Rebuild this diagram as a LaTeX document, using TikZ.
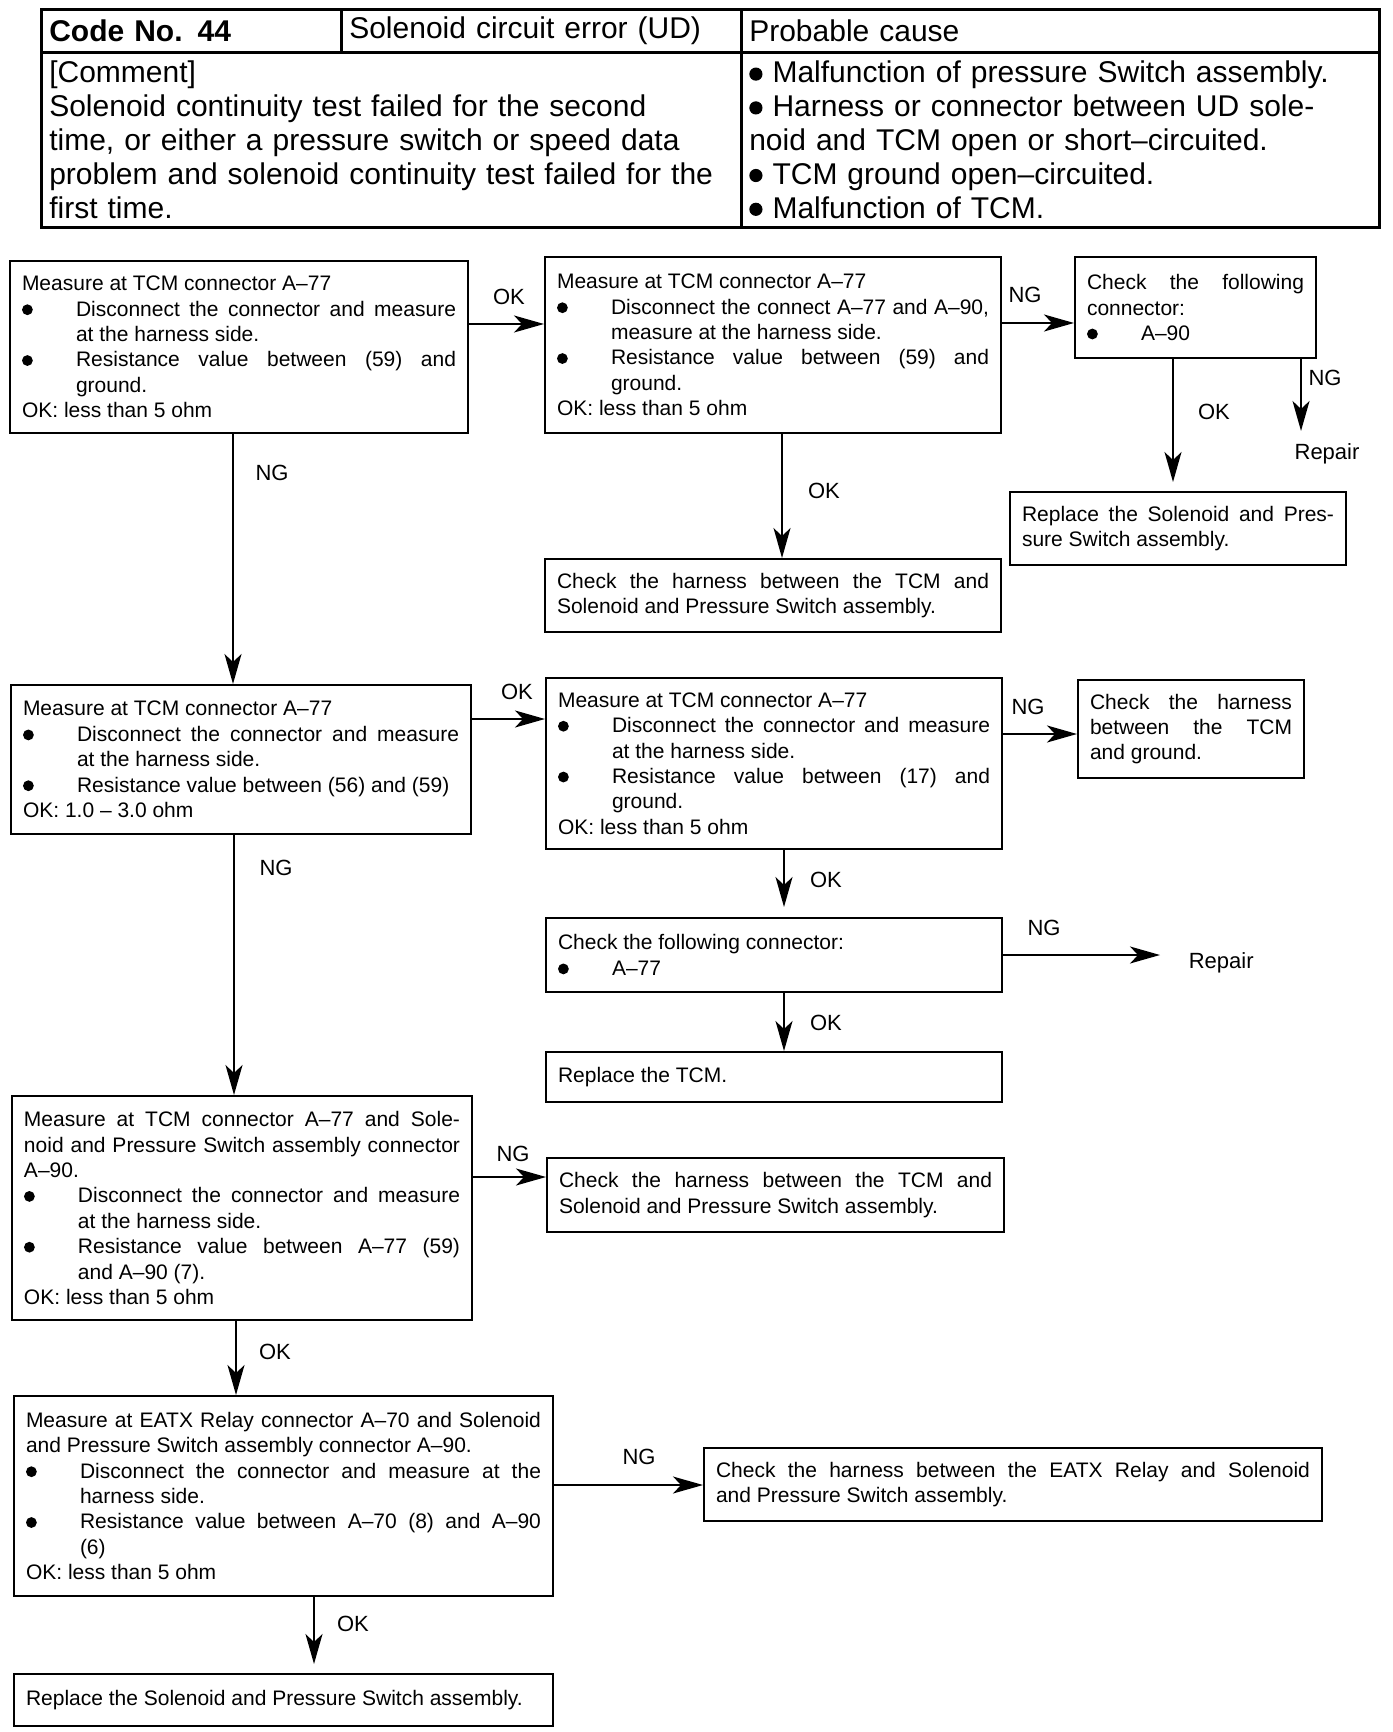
\documentclass[tikz,border=0pt]{standalone}
\usepackage{fontspec}
\setmainfont{Liberation Sans}
\usetikzlibrary{arrows.meta, positioning, calc}
\newcommand{\bigdot}[2]{\tikz[x=1pt, y=1pt, baseline=-#2]\fill (0,0) circle[radius=#1];}
\newcommand{\bitem}[1]{\par\noindent\hangindent=27pt\hangafter=1\makebox[27pt][l]{\bigdot{2.7}{3.2pt}}#1\par}
\newcommand{\hitem}{\bigdot{3.3}{4.4pt}\ }
\tikzset{
  every picture/.style={line width=0.8pt},
  box/.style={draw, line width=1pt, anchor=north west, align=justify, inner xsep=6pt, inner ysep=3pt,
    font=\fontsize{10.5}{12.7}\selectfont,
    execute at begin node={\parindent=0pt\hyphenpenalty=10000\tolerance=9999}},
  cell/.style={draw, line width=1.3pt, anchor=north west, align=left, inner xsep=4pt, inner ysep=1pt,
    font=\fontsize{15}{16.9}\selectfont},
  arrow/.style={-{Stealth[length=15pt, width=8.5pt, inset=4pt]}, line width=0.8pt},
  note/.style={font=\fontsize{11}{13}\selectfont, inner sep=0pt},
}
\begin{document}
\begin{tikzpicture}[x=0.5pt, y=-0.5pt]
  \useasboundingbox (0,0) rectangle (1392,1732);
  % header table
  \node[cell, minimum width=150pt, minimum height=21.5pt, text width=142pt] (hcode) at (40,8) {\textbf{Code No. 44}};
  \node[cell, minimum width=200pt, minimum height=21.5pt, text width=192pt] (herr) at (340,8) {Solenoid circuit error (UD)};
  \node[cell, minimum width=319pt, minimum height=21.5pt, text width=311pt] (hcause) at (740,8) {Probable cause};
  \node[cell, minimum width=350pt, minimum height=87.5pt, text width=342pt] (hcomm) at (40,51)
    {[Comment]\\Solenoid continuity test failed for the second\\time, or either a pressure switch or speed data\\problem and solenoid continuity test failed for the\\first time.};
  \node[cell, minimum width=319pt, minimum height=87.5pt, text width=311pt] (hlist) at (740,51)
    {\hitem Malfunction of pressure Switch assembly.\\\hitem Harness or connector between UD sole-\\noid and TCM open or short–circuited.\\\hitem TCM ground open–circuited.\\\hitem Malfunction of TCM.};

  % first column of checks
  \node[box, minimum width=229pt, minimum height=86pt, text width=217pt] (mA) at (9,260)
    {Measure at TCM connector A–77
     \bitem{Disconnect the connector and measure\linebreak at the harness side.}
     \bitem{Resistance value between (59) and\linebreak ground.}
     OK: less than 5 ohm};
  \node[box, minimum width=230pt, minimum height=74.5pt, text width=218pt] (mF) at (10,684)
    {Measure at TCM connector A–77
     \bitem{Disconnect the connector and measure\linebreak at the harness side.}
     \bitem{Resistance value between (56) and (59)}
     OK: 1.0 – 3.0 ohm};
  \node[box, minimum width=230pt, minimum height=112pt, text width=218pt] (mK) at (11,1095)
    {Measure at TCM connector A–77 and Sole-\linebreak noid and Pressure Switch assembly connector\linebreak A–90.
     \bitem{Disconnect the connector and measure\linebreak at the harness side.}
     \bitem{Resistance value between A–77 (59)\linebreak and A–90 (7).}
     OK: less than 5 ohm};
  \node[box, minimum width=269.5pt, minimum height=100pt, text width=257.5pt] (mM) at (13,1395)
    {Measure at EATX Relay connector A–70 and Solenoid\linebreak and Pressure Switch assembly connector A–90.
     \bitem{Disconnect the connector and measure at the\linebreak harness side.}
     \bitem{Resistance value between A–70 (8) and A–90\linebreak (6)}
     OK: less than 5 ohm};
  \node[box, minimum width=269.5pt, minimum height=26pt, text width=257.5pt] (rO) at (13,1673)
    {Replace the Solenoid and Pressure Switch assembly.};

  % second column
  \node[box, minimum width=228pt, minimum height=88pt, text width=216pt] (mB) at (544,256)
    {Measure at TCM connector A–77
     \bitem{Disconnect the connect A–77 and A–90,\linebreak measure at the harness side.}
     \bitem{Resistance value between (59) and\linebreak ground.}
     OK: less than 5 ohm};
  \node[box, minimum width=228pt, minimum height=36.5pt, text width=216pt] (cE) at (544,558)
    {Check the harness between the TCM and\linebreak Solenoid and Pressure Switch assembly.};
  \node[box, minimum width=228pt, minimum height=85.5pt, text width=216pt] (mG) at (545,677)
    {Measure at TCM connector A–77
     \bitem{Disconnect the connector and measure\linebreak at the harness side.}
     \bitem{Resistance value between (17) and\linebreak ground.}
     OK: less than 5 ohm};
  \node[box, minimum width=228pt, minimum height=37pt, text width=216pt] (cI) at (545,917)
    {Check the following connector:
     \bitem{A–77}};
  \node[box, minimum width=228pt, minimum height=25pt, text width=216pt] (rJ) at (545,1051)
    {Replace the TCM.};
  \node[box, minimum width=228.5pt, minimum height=37pt, text width=216.5pt] (cL) at (546,1157)
    {Check the harness between the TCM and\linebreak Solenoid and Pressure Switch assembly.};
  \node[box, minimum width=309pt, minimum height=36.5pt, text width=297pt] (cN) at (703,1447)
    {Check the harness between the EATX Relay and Solenoid\linebreak and Pressure Switch assembly.};

  % right column
  \node[box, minimum width=120.5pt, minimum height=50.5pt, text width=108.5pt] (cC) at (1074,256)
    {Check the following\linebreak connector:
     \bitem{A–90}};
  \node[box, minimum width=168pt, minimum height=36.5pt, text width=156pt] (rD) at (1009,491)
    {Replace the Solenoid and Pres-\linebreak sure Switch assembly.};
  \node[box, minimum width=113pt, minimum height=49pt, text width=101pt] (cH) at (1077,679)
    {Check the harness\linebreak between the TCM\linebreak and ground.};
  \node[note] (rep1) at (1327,454) {Repair};
  \node[note, anchor=west] (rep2) at (1188,963) {Repair};

  % connectors
  \draw[arrow] ([yshift=11.5pt]mA.east) -- ([yshift=11.5pt]mA.east -| mB.west);
  \draw[arrow] ([xshift=-3pt]mA.south) -- ([xshift=-3pt]mA.south |- mF.north);
  \draw[arrow] ([yshift=11pt]mB.east) -- ([yshift=11pt]mB.east -| cC.west);
  \draw[arrow] ([xshift=4.5pt]mB.south) -- ([xshift=4.5pt]mB.south |- cE.north);
  \draw[arrow, shorten >=4.5pt] ([xshift=-2.5pt]rD.north |- cC.south) -- ([xshift=-2.5pt]rD.north);
  \draw[arrow, shorten >=6pt] ([xshift=-8pt]cC.south east) -- ([xshift=-8pt]cC.south east |- rep1.north);
  \draw[arrow] ([yshift=20.25pt]mF.east) -- ([yshift=20.25pt]mF.east -| mG.west);
  \draw[arrow] ([xshift=-3.5pt]mF.south) -- ([xshift=-3.5pt]mF.south |- mK.north);
  \draw[arrow] ([yshift=14.75pt]mG.east) -- ([yshift=14.75pt]mG.east -| cH.west);
  \draw[arrow, shorten >=5pt] ([xshift=5pt]mG.south) -- ([xshift=5pt]mG.south |- cI.north);
  \draw[arrow, shorten >=14pt] (cI.east) -- (cI.east -| rep2.west);
  \draw[arrow] ([xshift=5pt]cI.south) -- ([xshift=5pt]cI.south |- rJ.north);
  \draw[arrow] ([yshift=15.5pt]mK.east) -- ([yshift=15.5pt]mK.east -| cL.west);
  \draw[arrow] ([xshift=-3pt]mK.south) -- ([xshift=-3pt]mK.south |- mM.north);
  \draw[arrow] ([yshift=5.5pt]mM.east) -- ([yshift=5.5pt]mM.east -| cN.west);
  \draw[arrow, shorten >=4.5pt] ([xshift=15.25pt]mM.south) -- ([xshift=15.25pt]mM.south |- rO.north);

  % branch labels
  \node[note] (okab) at (509,297) {OK};
  \node[note] (nga) at (272,473) {NG};
  \node[note] (ngbc) at (1025,295) {NG};
  \node[note] (okbe) at (824,491) {OK};
  \node[note] (okcd) at (1214,412) {OK};
  \node[note] (ngc) at (1325,378) {NG};
  \node[note] (okfg) at (517,692) {OK};
  \node[note] (ngf) at (276,868) {NG};
  \node[note] (nggh) at (1028,707) {NG};
  \node[note] (okgi) at (826,880) {OK};
  \node[note] (ngi) at (1044,928) {NG};
  \node[note] (okij) at (826,1023) {OK};
  \node[note] (ngkl) at (513,1154) {NG};
  \node[note] (okkm) at (275,1352) {OK};
  \node[note] (ngmn) at (639,1457) {NG};
  \node[note] (okmo) at (353,1624) {OK};
\end{tikzpicture}
\end{document}
